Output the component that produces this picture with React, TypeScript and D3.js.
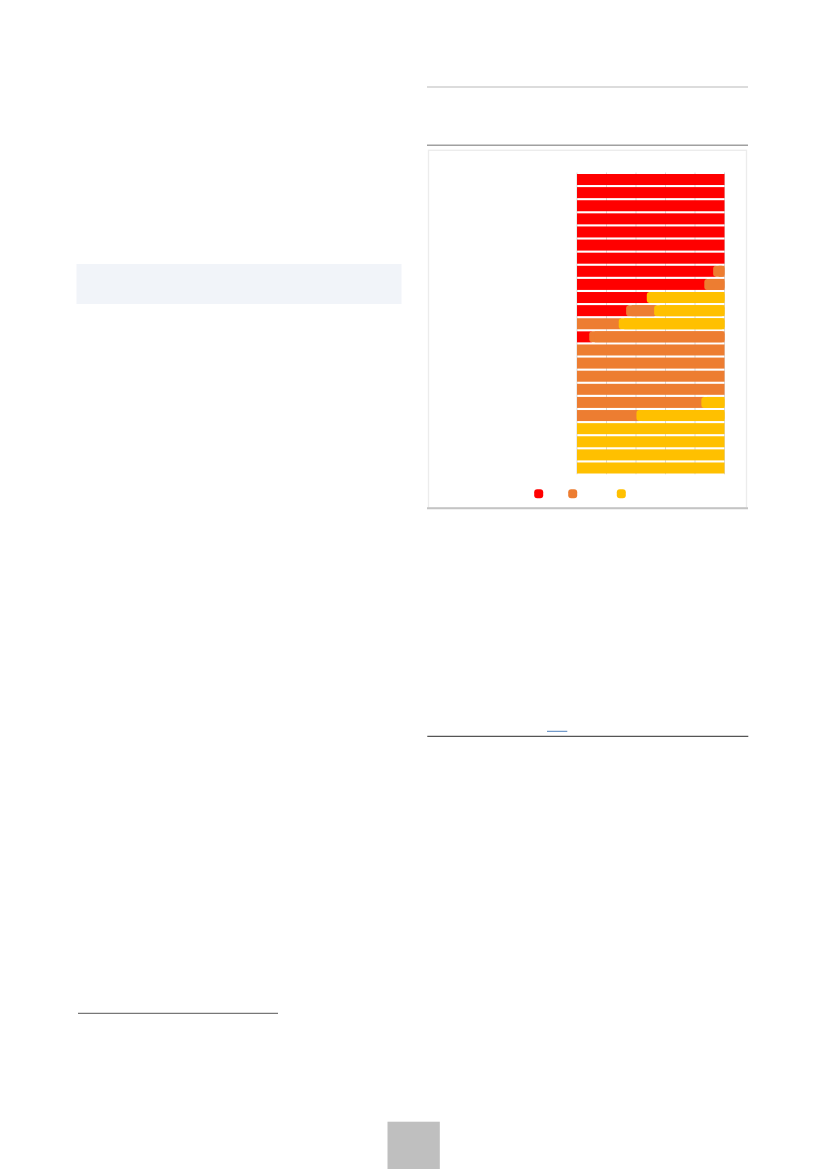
import * as d3 from 'd3'
import { useEffect, useRef } from 'react'

const PAGE_W = 827
const PAGE_H = 1169

// 23 rows, shares in percent (red / orange / yellow)
const categories = [
  'r01', 'r02', 'r03', 'r04', 'r05', 'r06', 'r07', 'r08', 'r09', 'r10', 'r11', 'r12',
  'r13', 'r14', 'r15', 'r16', 'r17', 'r18', 'r19', 'r20', 'r21', 'r22', 'r23',
]
const redShare = [100, 100, 100, 100, 100, 100, 100, 94, 88, 49, 35, 0, 10, 0, 0, 0, 0, 0, 0, 0, 0, 0, 0]
const orangeShare = [0, 0, 0, 0, 0, 0, 0, 6, 12, 0, 19, 30, 90, 100, 100, 100, 100, 86, 42, 0, 0, 0, 0]
const yellowShare = [0, 0, 0, 0, 0, 0, 0, 0, 0, 51, 46, 70, 0, 0, 0, 0, 0, 14, 58, 100, 100, 100, 100]
const xTicks = [0, 20, 40, 60, 80, 100]

const seriesKeys = ['red', 'orange', 'yellow']
const COLORS: Record<string, string> = { red: '#ff0000', orange: '#ed7d31', yellow: '#ffc000' }

const PLOT = { left: 577, right: 724.5, top: 174, bottom: 473.5 }
const LEGEND_X = [538.7, 572.7, 621.3]
const LEGEND_Y = 493.7

function drawPage(svg: d3.Selection<SVGSVGElement, unknown, null, undefined>) {
  svg.selectAll('*').remove()
  svg.append('rect').attr('width', PAGE_W).attr('height', PAGE_H).attr('fill', '#fff')

  // left column shaded box
  svg.append('rect').attr('x', 76.5).attr('y', 264).attr('width', 325).attr('height', 40).attr('fill', '#f1f4f9')
  // footnote rule
  svg.append('line').attr('x1', 78).attr('x2', 278).attr('y1', 1013.3).attr('y2', 1013.3).attr('stroke', '#555').attr('stroke-width', 1)
  // page number box
  svg.append('rect').attr('x', 387.5).attr('y', 1121.7).attr('width', 52.3).attr('height', 48).attr('fill', '#bfbfbf')

  // chart frame rules
  svg.append('line').attr('x1', 427).attr('x2', 748).attr('y1', 87).attr('y2', 87).attr('stroke', '#dcdcdc').attr('stroke-width', 2)
  svg.append('line').attr('x1', 427).attr('x2', 748).attr('y1', 145.3).attr('y2', 145.3).attr('stroke', '#a0a0a0').attr('stroke-width', 1.5)
  svg.append('rect').attr('x', 428.5).attr('y', 150.3).attr('width', 318).attr('height', 357.5)
    .attr('fill', '#fff').attr('stroke', '#ececec').attr('stroke-width', 1.3)
  svg.append('line').attr('x1', 427).attr('x2', 748).attr('y1', 508.3).attr('y2', 508.3).attr('stroke', '#c4c4c4').attr('stroke-width', 2)

  const x = d3.scaleLinear([0, 100], [PLOT.left, PLOT.right])
  const y = d3.scaleBand(categories, [PLOT.top, PLOT.bottom]).paddingInner(0.16).paddingOuter(0)

  // gridlines
  svg.append('g').selectAll('line').data(xTicks).join('line')
    .attr('x1', (d) => x(d)).attr('x2', (d) => x(d))
    .attr('y1', PLOT.top - 1.5).attr('y2', PLOT.bottom + 0.8)
    .attr('stroke', '#d9d9d9').attr('stroke-width', 1)

  const table = categories.map((c, i) => ({ cat: c, red: redShare[i], orange: orangeShare[i], yellow: yellowShare[i] }))
  const stacked = d3.stack<any>().keys(seriesKeys)(table)

  const bars = svg.append('g')
  stacked.forEach((layer) => {
    const g = bars.append('g').attr('fill', COLORS[layer.key])
    layer.forEach((seg) => {
      const w = seg[1] - seg[0]
      if (w <= 0) return
      const x0 = x(seg[0])
      const x1 = x(seg[1])
      const yy = y(seg.data.cat)!
      const h = y.bandwidth()
      if (seg[0] > 0) {
        // rounded leading edge overlapping the previous segment
        g.append('rect').attr('x', x0 - 2.5).attr('y', yy).attr('width', x1 - x0 + 2.5).attr('height', h).attr('rx', 3)
        g.append('rect').attr('x', x0 + 3).attr('y', yy).attr('width', Math.max(0, x1 - x0 - 3)).attr('height', h)
      } else {
        g.append('rect').attr('x', x0).attr('y', yy).attr('width', x1 - x0).attr('height', h)
      }
    })
  })

  // legend markers
  svg.append('g').selectAll('rect').data(seriesKeys).join('rect')
    .attr('x', (_, i) => LEGEND_X[i] - 4.5).attr('y', LEGEND_Y - 4.5)
    .attr('width', 9).attr('height', 9).attr('rx', 3)
    .attr('fill', (d) => COLORS[d])

  // source block underline + bottom rule
  svg.append('line').attr('x1', 547).attr('x2', 567.3).attr('y1', 731.3).attr('y2', 731.3).attr('stroke', '#4f81bd').attr('stroke-width', 1)
  svg.append('line').attr('x1', 427.3).attr('x2', 748.3).attr('y1', 736.3).attr('y2', 736.3).attr('stroke', '#555').attr('stroke-width', 1.2)
}

export default function App() {
  const ref = useRef<SVGSVGElement>(null)
  useEffect(() => {
    if (ref.current) drawPage(d3.select(ref.current))
  }, [])
  return (
    <svg
      ref={ref}
      width={PAGE_W}
      height={PAGE_H}
      viewBox={`0 0 ${PAGE_W} ${PAGE_H}`}
      style={{ position: 'absolute', left: 0, top: 0, display: 'block' }}
    />
  )
}
